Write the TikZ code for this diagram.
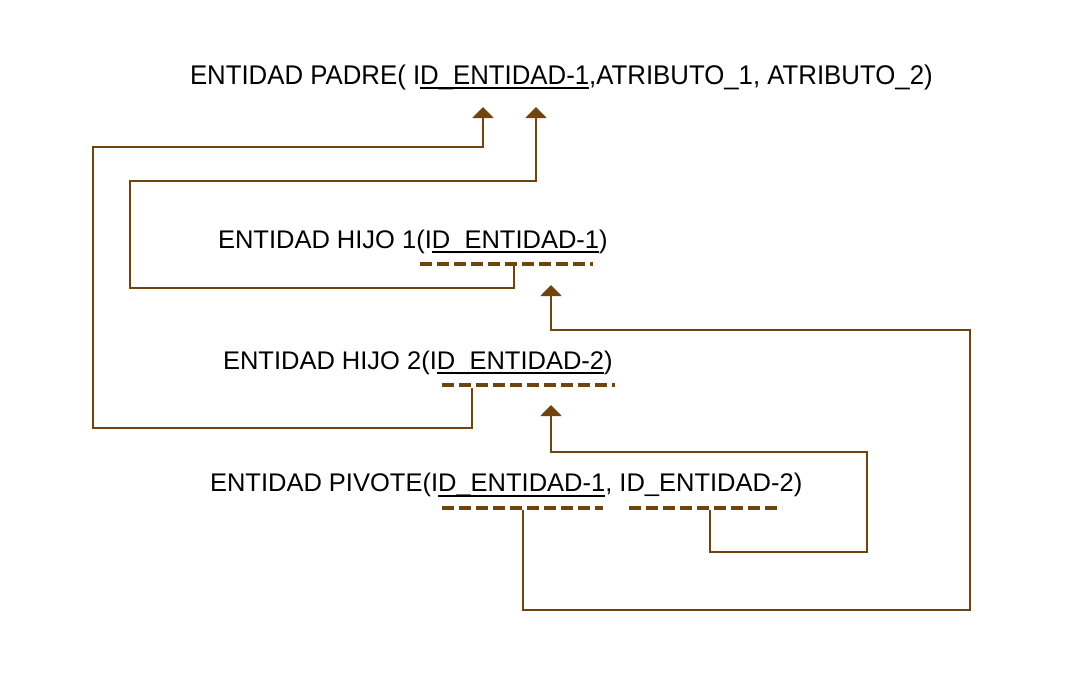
\documentclass[tikz,border=0pt]{standalone}
\usepackage{fontspec}
\setmainfont{Liberation Sans}
\newfontfamily\headfont[FakeStretch=0.955]{Liberation Sans}
\usepackage{xcolor}
\usetikzlibrary{arrows.meta}

\definecolor{keybrown}{RGB}{112,68,14}
\newcommand{\pkul}[1]{\setbox0\hbox{#1}\rlap{\rule[-5pt]{\wd0}{2pt}}\box0}

\tikzset{
  rowtext/.style={inner sep=0pt, outer sep=0pt, anchor=base west, font=\fontsize{25.5}{30}\selectfont},
  headtext/.style={rowtext, font=\fontsize{27}{32}\headfont},
  fkbar/.style={draw=keybrown, line width=4pt, dash pattern=on 12pt off 5pt},
  link/.style={draw=keybrown, line width=2pt, -{Triangle[width=21pt, length=11pt]}},
}

\begin{document}
\begin{tikzpicture}[x=1pt, y=-1pt]
\useasboundingbox (0,0) rectangle (1077,673);

% entidad padre
\node[headtext] (padre) at (190,84) {ENTIDAD PADRE(};
\node[headtext] (padreid) at (padre.base east) {\ I\pkul{D\_ENTIDAD-1}};
\node[headtext] (padreatt) at (padreid.base east) {,ATRIBUTO\_1, ATRIBUTO\_2)};

% entidades hijo
\node[rowtext] (hijo1) at (218,248) {ENTIDAD HIJO 1(};
\node[rowtext] (h1id) at (hijo1.base east) {I\pkul{D\_ENTIDAD-1}};
\node[rowtext] (h1end) at (h1id.base east) {)};
\draw[fkbar] (420,264) -- (593,264);

\node[rowtext] (hijo2) at (223,369) {ENTIDAD HIJO 2(};
\node[rowtext] (h2id) at (hijo2.base east) {I\pkul{D\_ENTIDAD-2}};
\node[rowtext] (h2end) at (h2id.base east) {)};
\draw[fkbar] (442,385) -- (615,385);

% entidad pivote
\node[rowtext] (pivote) at (210,491.5) {ENTIDAD PIVOTE(};
\node[rowtext] (pvid1) at (pivote.base east) {I\pkul{D\_ENTIDAD-1}};
\node[rowtext] (pvcomma) at (pvid1.base east) {,};
\node[rowtext] (pvid2) at (pvcomma.base east) {\ ID\_ENTIDAD-2};
\node[rowtext] (pvend) at (pvid2.base east) {)};
\draw[fkbar] (442,507.5) -- (603,507.5);
\draw[fkbar] (629,507.5) -- (782,507.5);

% puntos de llegada y salida
\coordinate (padrein1) at (483,107);
\coordinate (padrein2) at (536,107);
\coordinate (h1in) at (551,285);
\coordinate (h2in) at (551,405);
\coordinate (h1out) at (514,266);
\coordinate (h2out) at (472,388);
\coordinate (pvout1) at (523,510);
\coordinate (pvout2) at (710,510);

% referencias
\draw[link] (h2out) |- (93,428) |- (483,147) -- (padrein1);
\draw[link] (h1out) |- (130,288) |- (536,181) -- (padrein2);
\draw[link] (pvout1) |- (970,610) |- (551,330) -- (h1in);
\draw[link] (pvout2) |- (867,552) |- (551,452) -- (h2in);
\end{tikzpicture}
\end{document}
